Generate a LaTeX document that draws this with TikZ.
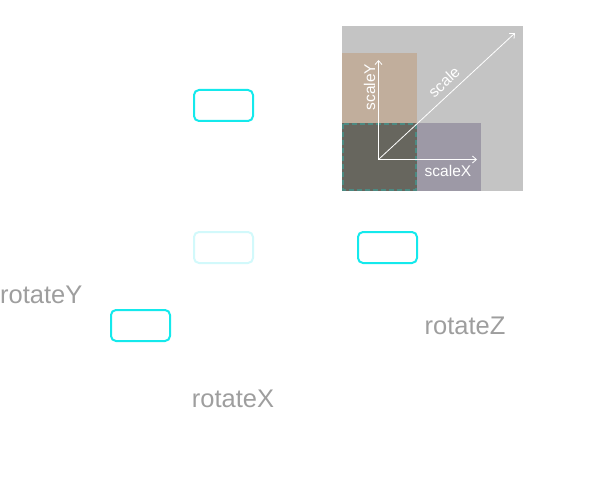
\documentclass[tikz,border=0pt]{standalone}
\usepackage{fontspec}
\setmainfont{Liberation Sans}
\usetikzlibrary{arrows.meta,positioning}

\definecolor{cyanline}{HTML}{14E9EC}
\definecolor{cyanfade}{HTML}{D2F9FB}
\definecolor{labelgray}{HTML}{9E9E9E}
\definecolor{panelgray}{HTML}{C4C4C4}
\definecolor{tanbox}{HTML}{C1AE9C}
\definecolor{lilacbox}{HTML}{9D99A6}
\definecolor{darkbox}{HTML}{67665E}
\definecolor{tealdash}{HTML}{4C8A82}

\begin{document}
\begin{tikzpicture}[
		x=1pt, y=-1pt,
		box/.style={draw=cyanline, line width=2pt, rounded corners=5pt,
			minimum width=59pt, minimum height=31pt, inner sep=0pt},
		faded/.style={draw=cyanfade},
		rotlabel/.style={text=labelgray, inner sep=0pt,
			font=\fontsize{25.5}{30}\selectfont},
		axislabel/.style={text=white, inner sep=0pt,
			font=\fontsize{15.5}{18}\selectfont},
		axis/.style={-{Straight Barb[length=4pt,width=7pt]}, white, line width=0.8pt},
		]
		\useasboundingbox (0,0) rectangle (595,487);
		
		% scale panel
		\fill[panelgray] (342,26) rectangle (523,191);
		\fill[tanbox] (342,53) rectangle (417,123);
		\fill[lilacbox] (417,123) rectangle (481,191);
		\fill[darkbox] (342,123) rectangle (417,191);
		\draw[tealdash, line width=2pt, dash pattern=on 5pt off 3pt] (343,124) rectangle (416,190);
		
		\coordinate (origin) at (378.5,159.5);
		\coordinate (tipY) at (378.5,60);
		\coordinate (tipX) at (477,159.5);
		\coordinate (tipS) at (515,33);
		\draw[axis] (origin) -- (tipY);
		\draw[axis] (origin) -- (tipX);
		\draw[axis] (origin) -- (tipS);
		
		\node[axislabel, rotate=90] (scaleY) at (369.5,87) {scaleY};
		\node[axislabel, rotate=42.6] (scale) at (444,82) {scale};
		\node[axislabel] (scaleX) at (448,171) {scaleX};
		
		% boxes
		\node[box] (top) at (223.5,105.5) {};
		\node[box, faded, below=109pt of top] (mid) {};
		\node[box, right=103pt of mid] (right) {};
		\node[box] (low) at (140.5,325.5) {};
		
		% labels
		\node[rotlabel, anchor=west] (rotY) at (0,295) {rotateY};
		\node[rotlabel] (rotZ) at (465,326) {rotateZ};
		\node[rotlabel] (rotX) at (233,399) {rotateX};
		
	\end{tikzpicture}
\end{document}
